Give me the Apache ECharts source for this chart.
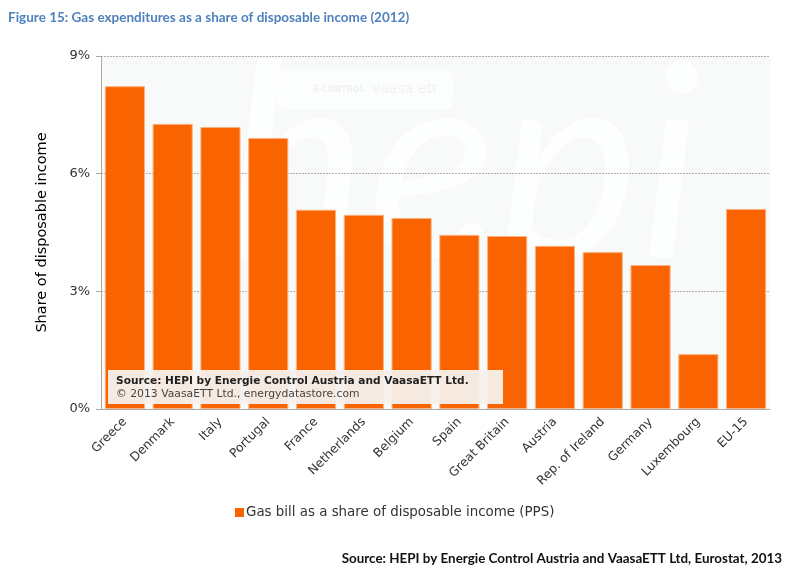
<!DOCTYPE html>
<html>
<head>
<meta charset="utf-8">
<title>Gas expenditures as a share of disposable income</title>
<script src="https://cdn.jsdelivr.net/npm/echarts@6/dist/echarts.min.js"></script>
<style>
    html, body {margin: 0; padding: 0; background: #fff;}
    #chart {width: 799px; height: 580px;}
</style>
</head>
<body>
<div id="chart"></div>
<script>
const countries = [
    'Greece', 'Denmark', 'Italy', 'Portugal', 'France', 'Netherlands', 'Belgium',
    'Spain', 'Great Britain', 'Austria', 'Rep. of Ireland', 'Germany', 'Luxembourg', 'EU-15',
];
const gasShare = [8.23, 7.27, 7.19, 6.91, 5.08, 4.95, 4.87, 4.44, 4.41, 4.16, 4.0, 3.67, 1.4, 5.1];
const seriesName = 'Gas bill as a share of disposable income (PPS)';

const myChart = echarts.init(document.getElementById('chart'));

const option = {
    animation: false,
    backgroundColor: '#fff',
    title: [
        {
            text: 'Figure 15: Gas expenditures as a share of disposable income (2012)',
            left: 3,
            top: 6,
            textStyle: {fontFamily: 'Lato', fontSize: 13.5, fontWeight: 'bold', color: '#4f81bd'},
        },
        {
            text: 'Source: HEPI by Energie Control Austria and VaasaETT Ltd, Eurostat, 2013',
            right: 12,
            top: 547,
            textStyle: {fontFamily: 'Lato', fontSize: 13.4, fontWeight: 'bold', color: '#111'},
        },
    ],
    grid: {
        left: 101,
        right: 29,
        top: 56,
        bottom: 171,
        show: true,
        backgroundColor: '#f8f9f9',
        borderWidth: 0,
    },
    legend: {
        left: 230,
        top: 501,
        icon: 'rect',
        itemWidth: 9,
        itemHeight: 9,
        itemStyle: {borderWidth: 0},
        textStyle: {fontFamily: 'DejaVu Sans', fontSize: 13.4, color: '#333', padding: [0, 0, 0, -3]},
        data: [seriesName],
    },
    xAxis: {
        type: 'category',
        data: countries,
        axisLine: {lineStyle: {color: '#aaa'}},
        axisTick: {length: 5, lineStyle: {color: '#aaa'}},
        axisLabel: {
            interval: 0,
            rotate: 45,
            margin: 11,
            fontFamily: 'DejaVu Sans',
            fontSize: 12.3,
            color: '#333',
        },
    },
    yAxis: {
        type: 'value',
        min: 0,
        max: 9,
        interval: 3,
        name: 'Share of disposable income',
        nameLocation: 'middle',
        nameGap: 51,
        nameTextStyle: {fontFamily: 'DejaVu Sans', fontSize: 14.5, fontWeight: 500, color: '#000'},
        axisLine: {show: true, lineStyle: {color: '#aaa'}},
        axisTick: {show: true, length: 5, lineStyle: {color: '#aaa'}},
        axisLabel: {
            formatter: '{value}%',
            margin: 11,
            padding: [2, 0, 0, 0],
            fontFamily: 'DejaVu Sans',
            fontSize: 13,
            color: '#333',
        },
        splitLine: {lineStyle: {type: [2, 1], color: '#b0b0b0', width: 1}},
    },
    series: [
        {
            name: seriesName,
            type: 'bar',
            data: gasShare,
            barCategoryGap: '16%',
            z: 2,
            itemStyle: {color: '#f96400', borderColor: '#fbb27f', borderWidth: 1},
        },
    ],
    graphic: [
        // faint watermark behind the bars
        {
            type: 'text',
            left: 225,
            top: 35,
            z: 0,
            silent: true,
            style: {
                text: 'hepi',
                fontFamily: 'Lato',
                fontStyle: 'italic',
                fontSize: 270,
                fill: 'rgba(255,255,255,0.75)',
            },
        },
        // faint logo strip
        {
            type: 'rect',
            z: 0,
            silent: true,
            shape: {x: 277, y: 69, width: 176, height: 41, r: 8},
            style: {fill: 'rgba(255,255,255,0.6)'},
        },
        {
            type: 'text',
            z: 0,
            silent: true,
            left: 313,
            top: 86,
            style: {
                text: 'E-CONTROL',
                fontFamily: 'DejaVu Sans',
                fontSize: 8,
                fontWeight: 'bold',
                fill: '#f0f1f1',
            },
        },
        {
            type: 'text',
            z: 0,
            silent: true,
            left: 372,
            top: 82,
            style: {
                text: 'vaasa ett',
                fontFamily: 'DejaVu Sans',
                fontSize: 14,
                fill: '#f0f1f1',
            },
        },
        // source box over the bars
        {
            type: 'rect',
            z: 10,
            shape: {x: 108, y: 370, width: 395, height: 34},
            style: {fill: 'rgba(245,240,236,0.95)'},
        },
        {
            type: 'text',
            z: 11,
            left: 116,
            top: 376,
            style: {
                text: 'Source: HEPI by Energie Control Austria and VaasaETT Ltd.',
                fontFamily: 'DejaVu Sans',
                fontSize: 10.6,
                fontWeight: 'bold',
                fill: '#222',
            },
        },
        {
            type: 'text',
            z: 11,
            left: 116,
            top: 389,
            style: {
                text: '© 2013 VaasaETT Ltd., energydatastore.com',
                fontFamily: 'DejaVu Sans',
                fontSize: 10.8,
                fill: '#444',
            },
        },
    ],
};

myChart.setOption(option);
</script>
</body>
</html>
